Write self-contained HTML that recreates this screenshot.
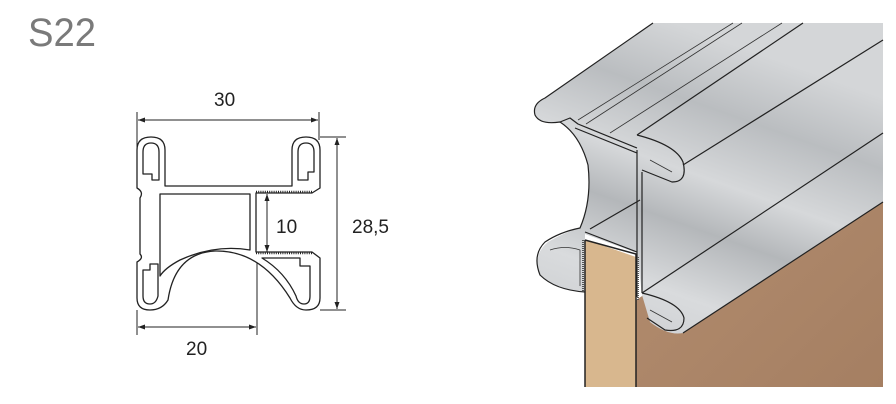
<!DOCTYPE html>
<html><head><style>
html,body{margin:0;padding:0;background:#fff;width:896px;height:404px;overflow:hidden}
svg{display:block}
text{font-family:"Liberation Sans",sans-serif}
</style></head><body>
<svg width="896" height="404" viewBox="0 0 896 404" xmlns="http://www.w3.org/2000/svg">
<defs>
<linearGradient id="g1" x1="0" y1="1" x2="0.4" y2="0">
<stop offset="0" stop-color="#c9cbce"/><stop offset="0.25" stop-color="#d9dbdd"/><stop offset="0.45" stop-color="#b4b7ba"/><stop offset="0.6" stop-color="#d6d8da"/><stop offset="0.8" stop-color="#babdc0"/><stop offset="1" stop-color="#d4d6d8"/>
</linearGradient>
<linearGradient id="w" x1="0" y1="0" x2="1" y2="1">
<stop offset="0" stop-color="#b48e70"/><stop offset="1" stop-color="#a57f62"/>
</linearGradient>
</defs>
<text x="28" y="46" font-size="40" fill="#7a7a7a" textLength="68" lengthAdjust="spacingAndGlyphs">S22</text>

<g stroke="#222" stroke-width="1" fill="none">
<line x1="137" y1="112" x2="137" y2="148"/><line x1="319" y1="112" x2="319" y2="140"/>
<line x1="138" y1="120" x2="318" y2="120"/>
<line x1="320" y1="137" x2="346" y2="137"/><line x1="320" y1="310" x2="346" y2="310"/>
<line x1="337" y1="138" x2="337" y2="309"/>
<line x1="137" y1="310" x2="137" y2="335"/><line x1="257" y1="252" x2="257" y2="335"/>
<line x1="138" y1="327" x2="256" y2="327"/>
<line x1="267" y1="194" x2="267" y2="252"/>
</g>
<g fill="#222">
<path d="M138,120 l7,-2.5 v5z"/><path d="M318,120 l-7,-2.5 v5z"/>
<path d="M337,138 l-2.5,7 h5z"/><path d="M337,309 l-2.5,-7 h5z"/>
<path d="M138,327 l7,-2.5 v5z"/><path d="M256,327 l-7,-2.5 v5z"/>
<path d="M267,194 l-2.5,7 h5z"/><path d="M267,252 l-2.5,-7 h5z"/>
</g>
<g font-size="19" fill="#222">
<text x="214" y="106">30</text>
<text x="352" y="233">28,5</text>
<text x="186" y="355">20</text>
<text x="276" y="233">10</text>
</g>

<g stroke="#222" stroke-width="1.3" fill="#fff" stroke-linejoin="round">
<path d="M137,150 Q137,137 151,137 Q165,137 165,150 L165,186 L292,186 L292,150 Q292,137 306,137 Q320,137 320,150 L320,188 L312,193 L256,193 L256,252 L312,252 L320,258 L320,298 Q320,310 306,310 Q296,310 290,298 Q260,250 215,251 Q175,253 168,300 Q162,310 150,310 Q137,310 137,298 L137,262 Q144,258 140,254 L140,198 Q144,192 137,188 Z"/>
<path d="M160,194 L250,194 L250,250 Q215,244 180,260 Q165,268 160,276 Z"/>
<path d="M143,152 Q143,143 151,143 Q159,143 159,152 L159,180 L152,180 L152,174 L143,174 Z"/>
<path d="M298,152 Q298,143 306,143 Q314,143 314,152 L314,172 L308,172 L308,180 L298,180 Z"/>
<path d="M143,270 L150,270 L150,264 L158,264 L158,296 Q156,304 150,304 Q143,304 143,296 Z"/>
<path d="M262,258 L300,258 L300,266 L310,266 L310,296 Q310,304 304,304 Q298,304 296,296 Q285,272 262,258 Z"/>
</g>
<path d="M256,192 h56 M256,253 h56" stroke="#222" stroke-width="2.5" stroke-dasharray="1,1.2"/>

<!-- 3D render -->
<path d="M636,300 L883,140 L883,387 L636,387 Z" fill="url(#w)"/>
<path d="M653,23 L883,23 L883,202 L683,333 Q668,336 650,322 L642,295 L637,253 L585,234 L585,292 Q555,290 540,275 Q532,255 548,242 Q565,232 580,228 Q592,200 588,165 Q580,135 560,122 Q540,125 535,115 Q532,104 545,98 Z" fill="url(#g1)"/>
<g stroke="#222" stroke-width="1.2" fill="none" stroke-linejoin="round">
<path d="M653,23 L545,98 Q532,104 535,115 Q540,125 560,122 Q580,135 588,165 Q592,200 580,228 Q560,232 545,242 Q532,255 540,275 Q555,290 585,292"/>
<path d="M560,122 L570,118 L578,124 L637,148"/>
<path d="M575,128 L637,153"/>
<path d="M637,135 Q676,145 683,162 Q688,182 672,182 L642,170"/>
<path d="M637,135 L803,23"/>
<path d="M683,165 L883,40"/>
<path d="M637,150 L637,297 M642,172 L642,293"/>
<path d="M642,293 Q680,302 684,318 Q684,333 665,330 L647,318"/>
<path d="M683,333 L883,202"/>
<path d="M642,293 L883,133"/>
<path d="M585,232 L637,252"/>
<path d="M590,229 L640,200"/>
</g>
<g stroke="#333" stroke-width="0.8" fill="none">
<path d="M578,120 L733,23"/><path d="M586,124 L742,23"/><path d="M610,133 L782,23"/>
<path d="M550,250 Q565,245 580,250 L580,286"/>
<path d="M650,310 L672,322"/><path d="M650,160 L672,172"/>
</g>
<path d="M587,240 L636,257 L636,387 L585,387 L585,240 Z" fill="#d8b78e"/>
<path d="M585,240 L636,254 L636,387 M585,240 L585,387" stroke="#222" stroke-width="1.5" fill="none"/>
<path d="M583,240 L583,292" stroke="#555" stroke-width="2" stroke-dasharray="1,1"/>
<path d="M638,257 L638,300" stroke="#555" stroke-width="2" stroke-dasharray="1,1"/>
</svg>
</body></html>
